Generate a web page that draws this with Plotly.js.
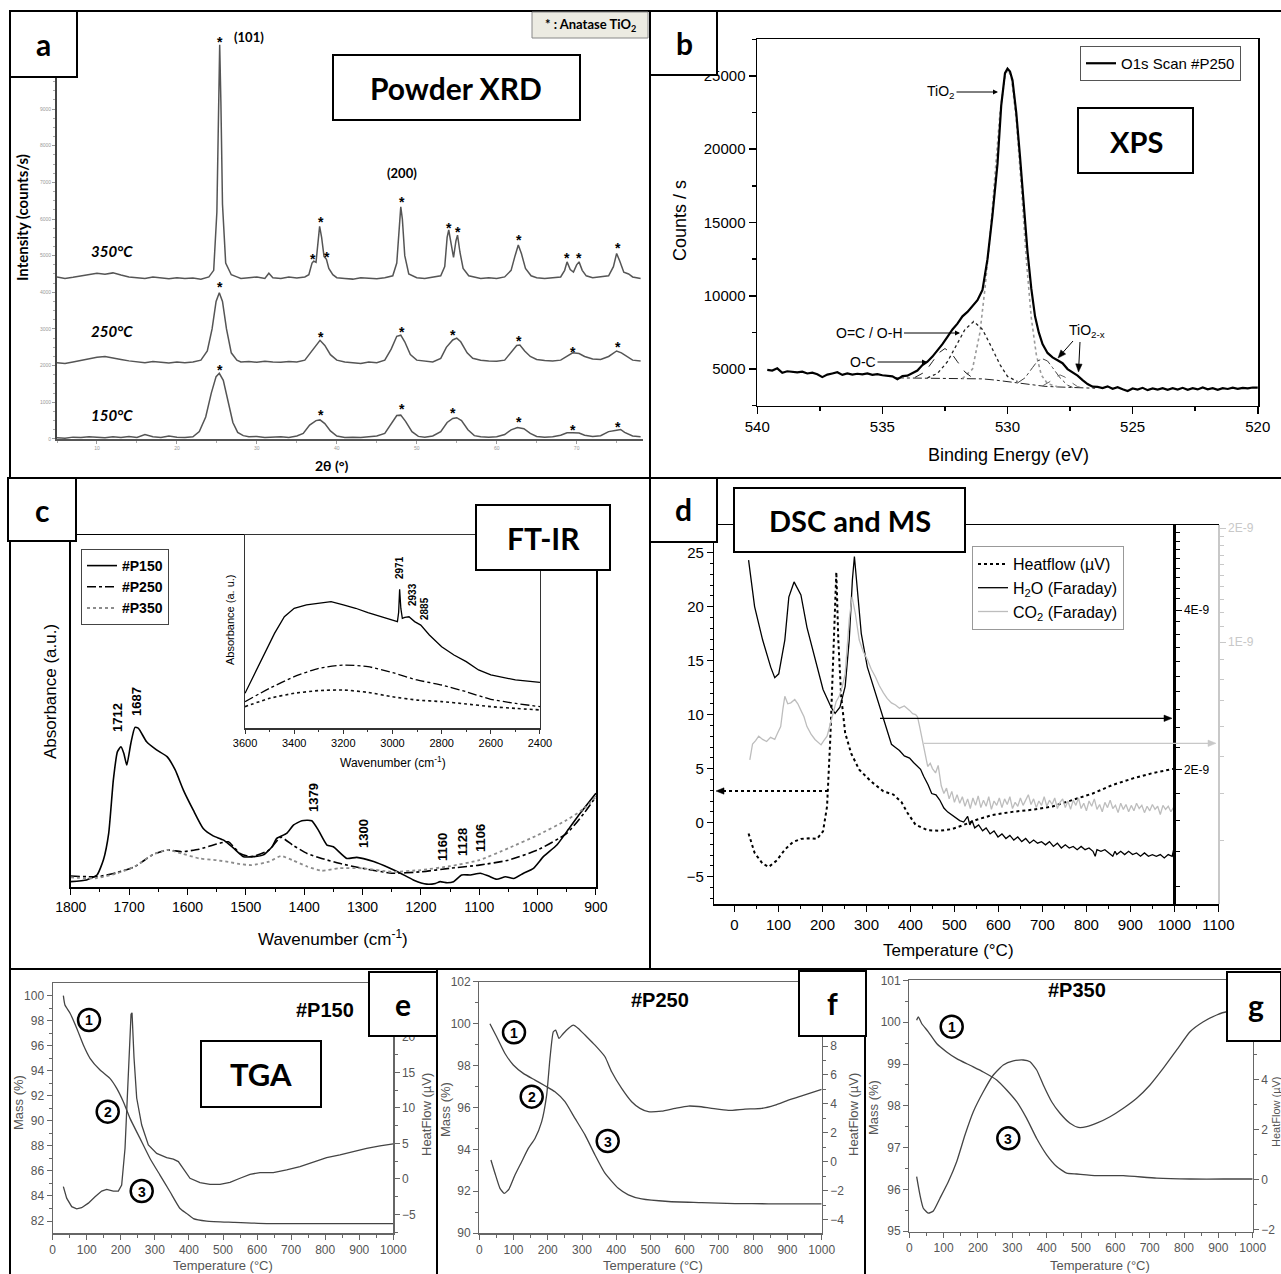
<!DOCTYPE html>
<html>
<head>
<meta charset="utf-8">
<script src="https://cdn.plot.ly/plotly-3.0.1.min.js"></script>
<style>
html,body{margin:0;padding:0;background:#fff;}
#chart{width:1281px;height:1274px;}
</style>
</head>
<body>
<div id="chart"></div>
<script>
// ====================== DATA ======================
// ---- (a) Powder XRD : 2theta (deg) / intensity (counts/s)
const xrd350_2t = [5,6,7,8,9,10,11,12,13,14,15,16,17,18,19,20,21,22,23,24,24.6,25.0,25.2,25.35,25.5,25.7,26.1,26.8,27.5,28,29,30,31,31.5,32,33,34,35,36,36.5,36.9,37.1,37.4,37.65,37.85,38.1,38.4,38.7,39.0,39.5,40,41,42,43,44,45,46,47,47.5,47.8,48.0,48.2,48.5,49,50,51,52,53,53.5,53.8,54.0,54.3,54.6,54.9,55.1,55.4,55.8,56.5,57,58,59,60,61,61.8,62.3,62.7,63.1,63.6,64.3,65,66,67,68,68.5,68.8,69.2,69.6,70.0,70.3,70.7,71.2,72,73,74,74.6,75.0,75.4,75.9,76.5,77,78];
const xrd350_int = [4420,4380,4410,4450,4500,4520,4490,4530,4470,4420,4400,4380,4420,4390,4370,4400,4380,4390,4360,4420,4600,6200,9000,10750,9200,6400,4800,4480,4420,4380,4400,4420,4380,4520,4400,4380,4420,4390,4420,4480,4800,4850,4820,5300,5800,5500,4980,4900,4650,4480,4400,4380,4360,4400,4380,4370,4400,4450,4800,5800,6330,6000,5000,4500,4400,4380,4420,4450,4700,5500,5700,5300,4950,5400,5560,5100,4650,4450,4420,4380,4400,4380,4420,4600,5000,5290,5050,4650,4450,4400,4380,4400,4420,4600,4830,4620,4550,4750,4830,4600,4450,4400,4420,4450,4700,5060,4850,4550,4500,4420,4380];
const xrd250_2t = [5,6,7,8,9,10,11,12,13,14,15,16,17,18,19,20,21,22,23,23.8,24.4,24.9,25.3,25.7,26.2,26.8,27.5,28,29,30,31,32,33,34,35,36,36.7,37.3,37.9,38.5,39.2,40,41,42,43,44,45,46,46.8,47.5,48.0,48.5,49.2,50,51,52,53,53.7,54.5,55.0,55.5,56.3,57,58,59,60,61,61.8,62.5,62.9,63.5,64.2,65,66,67,68,68.8,69.5,70.3,71,72,73,74,75,75.6,76.3,77,78];
const xrd250_int = [2080,2060,2100,2150,2200,2230,2250,2200,2170,2130,2100,2080,2110,2090,2070,2100,2080,2100,2150,2400,3000,3750,3990,3750,3000,2350,2150,2100,2110,2090,2120,2100,2090,2110,2100,2150,2350,2550,2690,2550,2300,2150,2100,2080,2060,2100,2080,2150,2450,2800,2830,2650,2300,2150,2120,2100,2200,2500,2700,2750,2650,2350,2200,2150,2130,2120,2150,2350,2550,2560,2400,2250,2170,2140,2130,2150,2250,2350,2330,2250,2180,2170,2250,2400,2350,2250,2150,2130];
const xrd150_2t = [5,6,7,8,9,10,11,12,13,14,15,16,17,18,19,20,21,22,22.8,23.6,24.3,24.9,25.3,25.8,26.4,27.0,27.6,28.3,29,30,31,32,33,34,35,35.8,36.6,37.4,37.9,38.5,39.2,40,41,42,43,44,45,46,46.8,47.5,48.0,48.6,49.4,50.2,51,52,53,53.8,54.5,55.0,55.6,56.4,57.2,58,59,60,61,61.8,62.6,63.4,64.2,65,66,67,68,68.8,69.5,70.3,71,72,73,74,75,75.5,76,77,78];
const xrd150_int = [30,20,50,40,60,50,30,60,40,70,40,120,60,40,80,50,40,60,200,600,1250,1700,1790,1600,1000,450,180,90,60,70,40,50,60,40,80,150,380,500,520,420,220,80,40,50,40,60,80,150,400,640,650,480,200,70,50,80,200,450,560,580,500,250,90,60,50,60,120,250,310,280,150,70,50,60,100,170,170,160,100,70,90,200,240,260,180,80,60];
// anatase peak markers [2theta, intensity]
const xrd350_marks = [[25.4,10950],[37.0,5020],[38.0,6030],[38.8,5060],[48.1,6560],[54.0,5860],[55.2,5750],[62.8,5540],[68.8,5050],[70.3,5050],[75.2,5320]];
const xrd250_marks = [[25.4,4250],[38.0,2880],[48.1,3020],[54.5,2950],[62.8,2770],[69.5,2470],[75.2,2610]];
const xrd150_marks = [[25.4,2000],[38.0,770],[48.1,930],[54.5,810],[62.8,565],[69.6,355],[75.2,445]];
const xrd_yticks = [0,1000,2000,3000,4000,5000,6000,7000,8000,9000];

// ---- (b) XPS O1s : binding energy (eV) / counts per s
const xps_o1s = [[539.6,4950],[539.4,4900],[539.2,5050],[539.0,4750],[538.8,4850],[538.6,4800],[538.4,4780],[538.2,4820],[538.0,4700],[537.8,4760],[537.6,4650],[537.4,4450],[537.2,4620],[537.0,4700],[536.8,4780],[536.6,4600],[536.4,4700],[536.2,4620],[536.0,4680],[535.8,4640],[535.6,4700],[535.4,4600],[535.2,4650],[535.0,4580],[534.8,4560],[534.6,4500],[534.4,4300],[534.2,4520],[534.0,4550],[533.8,4700],[533.6,4900],[533.4,5270],[533.2,5500],[533.0,5850],[532.8,6250],[532.6,6700],[532.4,7200],[532.2,7700],[532.0,8100],[531.8,8600],[531.6,8900],[531.4,9300],[531.2,9700],[531.0,10400],[530.8,12500],[530.6,15500],[530.4,19000],[530.25,23000],[530.1,25200],[530.0,25500],[529.9,25300],[529.8,24700],[529.65,22500],[529.5,19500],[529.35,16200],[529.2,13000],[529.05,10500],[528.9,8600],[528.75,7500],[528.6,6700],[528.4,6100],[528.2,5800],[528.0,5600],[527.8,5400],[527.6,5000],[527.4,4800],[527.2,4550],[527.0,4250],[526.8,3980],[526.6,3800],[526.4,3780],[526.2,3700],[526.0,3820],[525.8,3650],[525.6,3760],[525.4,3620],[525.2,3500],[525.0,3680],[524.8,3600],[524.6,3720],[524.4,3560],[524.2,3680],[524.0,3600],[523.8,3700],[523.6,3580],[523.4,3690],[523.2,3600],[523.0,3720],[522.8,3580],[522.6,3700],[522.4,3610],[522.2,3740],[522.0,3620],[521.8,3690],[521.6,3580],[521.4,3700],[521.2,3640],[521.0,3730],[520.8,3650],[520.6,3720],[520.4,3680],[520.2,3740],[520.0,3730]];
const xps_background = [[534.5,4400],[533,4380],[532,4360],[531,4330],[530.5,4250],[530,4150],[529.5,4020],[529,3900],[528.5,3820],[528,3780],[527,3720],[526.5,3690]];
const xps_tio2 = [[531.8,4350],[531.4,5000],[531.1,7500],[530.9,10500],[530.7,14000],[530.5,18000],[530.3,22500],[530.1,25000],[530.0,25400],[529.85,25000],[529.65,22000],[529.45,17500],[529.25,12500],[529.05,8500],[528.85,6000],[528.65,4600],[528.4,4000],[528.0,3800]];
const xps_ocoh = [[533.2,4400],[532.8,4700],[532.4,5500],[532.0,6700],[531.7,7700],[531.35,8250],[531.0,7700],[530.7,6700],[530.3,5300],[530.0,4500],[529.6,4150]];
const xps_oc = [[533.7,4430],[533.3,4800],[533.0,5500],[532.75,6100],[532.5,6400],[532.25,6100],[532.0,5500],[531.7,4800],[531.4,4400]];
const xps_tio2x_a = [[529.6,4050],[529.3,4400],[529.0,5100],[528.8,5550],[528.6,5700],[528.4,5550],[528.2,5100],[527.9,4400],[527.6,3900],[527.4,3750]];
const xps_tio2x_b = [[528.6,3850],[528.3,4150],[528.1,4450],[527.9,4600],[527.7,4450],[527.5,4150],[527.2,3800],[527.0,3720]];

// ---- (c) FT-IR : wavenumber (cm-1) / absorbance (a.u.)
const ir_wn150 = [1800,1773,1755,1744,1735,1727,1720,1714,1709,1704,1697,1690,1684,1670,1653,1635,1621,1607,1590,1573,1556,1538,1521,1504,1487,1470,1455,1447,1430,1418,1404,1387,1376,1361,1350,1327,1310,1281,1253,1235,1213,1190,1175,1167,1155,1144,1130,1115,1098,1084,1070,1055,1041,1024,1007,990,967,950,927,900];
const ir_abs150 = [1.6,2.1,3.5,7.8,15.3,30.5,38.5,39.9,38.0,34.7,40.9,45.4,45.1,41.3,39.0,37.1,33.3,27.6,21.9,16.7,14.6,13.4,11.1,8.7,8.7,9.2,11.5,13.9,15.3,17.7,18.9,18.9,16.3,12.0,11.5,8.2,8.5,7.3,5.4,4.0,2.1,0.9,1.1,1.6,1.3,1.6,3.5,3.5,4.0,3.2,2.3,3.0,2.5,4.0,5.4,8.7,12.0,15.8,21.0,26.7];
const ir_wn = [1800,1755,1720,1690,1660,1635,1610,1580,1550,1530,1510,1490,1460,1440,1420,1395,1370,1340,1300,1250,1200,1150,1100,1050,1000,950,920,900];
const ir_abs250 = [3.2,3.0,4.2,5.9,9.2,10.6,10.1,10.8,12.3,12.9,9.6,8.7,10.6,14.2,12.0,9.6,8.2,6.8,5.4,4.0,4.4,5.4,6.3,7.7,10.6,15.3,21.1,25.7];
const ir_abs350 = [2.8,2.6,4.0,5.9,9.2,10.6,9.6,8.2,7.7,7.2,6.6,6.3,7.3,8.9,7.7,5.9,4.7,5.4,5.4,4.4,4.9,6.0,7.7,11.1,14.8,19.1,22.4,25.7];
// inset 3600-2400 cm-1
const irIn_wn150 = [3600,3560,3520,3480,3440,3400,3350,3300,3250,3200,3150,3100,3050,3000,2980,2975,2971,2966,2960,2950,2933,2910,2885,2850,2800,2750,2700,2650,2600,2500,2400];
const irIn_abs150 = [18.1,28.4,38.8,49.1,57.7,62.1,63.8,64.7,65.5,63.8,62.1,59.8,57.7,56.0,55.2,60,71.9,62,56.9,57.4,57.7,55.2,53.4,48.3,42.2,37.9,34.5,30.2,27.6,25.0,23.8];
const irIn_wn = [3600,3500,3400,3300,3200,3100,3000,2900,2800,2700,2600,2500,2400];
const irIn_abs250 = [13.8,20.7,26.7,31.0,32.7,31.9,28.8,25.0,22.4,18.9,15.0,12.9,11.2];
const irIn_abs350 = [11.2,15.5,18.1,19.5,19.8,18.6,16.3,14.6,13.8,12.6,11.2,10.3,9.5];

// ---- (d) DSC and MS : temperature (C)
const dsc_T = [32,45.7,64,77.8,96,114.4,132.7,151,169.3,187.6,201.3,210.4,217.7,224,228.7,231.5,236,242.5,251.6,265.3,283.6,311,338.5,361.4,379.7,393.4,411.7,439,466.6,494,521.5,549,585.5,631.3,677,722.8,768.5,814.3,860,905.8,951.5,1000];
const dsc_heatflow = [-1.0,-2.8,-3.8,-4.1,-3.5,-2.5,-1.8,-1.5,-1.45,-1.5,-0.8,1.5,7.7,14.8,20.0,23.2,16.9,11.7,8.3,6.4,4.9,3.8,2.9,2.6,1.9,0.9,-0.2,-0.7,-0.75,-0.6,-0.2,0.25,0.7,1.0,1.2,1.5,2.1,2.7,3.5,4.1,4.6,5.0];
// H2O Faraday current, in units of 1E-9
const h2o_T = [32,45.7,64,82.3,91.5,100.6,114.4,123.5,135.4,151,164.7,183,201.3,219.6,228.7,239.7,251.6,260.8,268,272.6,279,288.2,302,320.2,338.5,356.8,366,375,386,398,407,416.3,423,430,440,448.3,458,466.6,476,484.9,494,
  503,512,521,530,535,540,546,555,564,572,581,590,599,608,617,626,635,644,653,662,671,680,689,698,707,716,725,734,743,752,761,770,779,788,797,806,815,820,824,833,842,851,860,865,869,878,887,896,905,914,923,932,941,950,959,968,977,986,995,1000];
const h2o_I = [4.97,4.06,3.51,3.12,2.98,3.03,3.51,4.23,4.52,4.27,3.71,3.22,2.83,2.62,2.55,2.62,2.87,3.51,4.56,5.05,4.44,3.61,3.12,2.79,2.48,2.23,2.20,2.17,2.12,2.10,2.06,2.02,2.00,1.94,1.87,1.80,1.79,1.75,1.69,1.66,1.64,
  1.62,1.60,1.59,1.63,1.57,1.60,1.55,1.57,1.53,1.55,1.51,1.53,1.49,1.51,1.48,1.50,1.47,1.49,1.46,1.48,1.45,1.47,1.45,1.46,1.44,1.46,1.43,1.45,1.42,1.44,1.42,1.43,1.41,1.43,1.41,1.42,1.40,1.37,1.41,1.40,1.41,1.39,1.37,1.40,1.38,1.40,1.38,1.40,1.38,1.39,1.37,1.39,1.37,1.38,1.37,1.38,1.36,1.38,1.37,1.43];
// CO2 Faraday current, in units of 1E-9
const co2_T = [34.8,41,48,55,64,73,82,91.5,98,105,110,114.4,121,128,137,144,151,158,164.7,174,183,190,196.7,203,210.4,217,224.1,231,237.9,245,251.6,256,260.8,267.2,274.5,283.6,293,302,311,320.2,329,338.5,347,356.8,366,375,386,398,405,411.7,416,420.9,425,430,435,439.2,445,450,457,463,470,476,482,488,494,500,
  506,512,518,524,530,536,542,548,554,560,566,572,578,584,590,596,602,608,614,620,626,632,638,644,650,656,662,668,674,680,686,692,698,704,710,716,722,728,734,740,746,752,758,764,770,776,782,788,794,800,806,812,818,824,830,836,842,848,854,860,866,872,878,884,890,896,902,908,914,920,926,932,938,944,950,956,962,968,974,980,986,992,998,1000];
const co2_I = [0.489,0.539,0.550,0.565,0.554,0.547,0.561,0.554,0.576,0.599,0.666,0.720,0.688,0.692,0.706,0.688,0.661,0.636,0.599,0.572,0.554,0.543,0.536,0.550,0.565,0.603,0.648,0.697,0.720,0.764,0.827,0.955,1.148,1.318,1.195,1.014,0.943,0.901,0.849,0.811,0.769,0.735,0.711,0.692,0.683,0.670,0.679,0.661,0.648,0.644,0.636,0.599,0.565,0.529,0.495,0.470,0.479,0.464,0.452,0.473,0.418,0.399,0.412,0.386,0.404,0.378,
  0.396,0.376,0.391,0.369,0.386,0.364,0.388,0.371,0.393,0.366,0.383,0.369,0.391,0.362,0.381,0.371,0.388,0.366,0.386,0.373,0.391,0.364,0.378,0.369,0.388,0.371,0.383,0.396,0.373,0.386,0.366,0.381,0.371,0.391,0.369,0.383,0.373,0.388,0.364,0.378,0.386,0.366,0.381,0.362,0.383,0.371,0.388,0.364,0.376,0.359,0.381,0.369,0.386,0.362,0.373,0.357,0.378,0.366,0.383,0.364,0.371,0.355,0.376,0.362,0.373,0.357,0.371,0.359,0.376,0.364,0.371,0.355,0.369,0.359,0.373,0.362,0.369,0.351,0.371,0.362,0.369,0.357,0.366,0.353];

// ---- (e,f,g) TGA : temperature (C) / mass (%) and heat flow (uV)
const tgaE_mT = [31.3,36,51,70.5,90,109.6,139,168,188,207.4,227,256.4,285.7,315,344.4,373.8,393.4,413,452,530,628,824,1000];
const tgaE_mass = [100.0,99.25,98.6,97.4,96.06,95.0,94.06,93.4,92.6,91.53,90.2,88.6,87.0,85.67,84.34,83.0,82.6,82.2,82.0,81.9,81.8,81.8,81.8];
const tgaE_hT = [31.3,41,55.8,70.5,85,104.7,124.3,143.8,158.5,178,192.8,202.5,212.3,222.1,230,232.9,238.7,246.6,261.3,280.8,305.3,334.6,354.2,368.9,383.6,403.1,432.5,461.8,491.2,520.5,549.9,579.3,608.6,647.7,686.9,726,765.2,804.3,843.4,882.6,921.7,960.9,1000];
const tgaE_hf = [-1.08,-2.7,-3.9,-4.2,-4.05,-3.4,-2.5,-1.7,-1.46,-1.7,-1.7,-0.85,4.3,13.8,23.2,23.4,17.1,11.4,7.6,4.8,3.6,3.0,2.8,2.45,1.5,0.1,-0.5,-0.75,-0.75,-0.47,0.1,0.66,0.9,0.9,1.27,1.75,2.36,3.0,3.4,3.9,4.3,4.67,4.95];
const tgaF_mT = [31,50.6,75,99.3,128.5,162.6,191.8,221,250.2,279.5,308.7,337.9,367,406,435.3,474.2,552,649.5,746.8,844.2,1000];
const tgaF_mass = [100.0,99.38,98.58,98.03,97.63,97.31,97.04,96.75,96.28,95.48,94.69,93.73,92.86,92.14,91.83,91.63,91.51,91.46,91.41,91.4,91.4];
const tgaF_hT = [34,45.8,60.4,73,86.7,104.2,123.7,143.1,162.6,182,196.7,206.4,216.2,223,232.7,245.4,260,274.6,289.2,308.7,337.9,367,386.6,415.8,445,469.3,493.7,532.6,571.6,610.5,639.7,678.7,727.4,776,824.7,863.7,902.6,941.6,1000];
const tgaF_hf = [0.12,-0.8,-1.84,-2.19,-1.89,-0.92,0.0,0.92,1.61,2.76,4.6,7.14,8.99,9.1,8.53,8.87,9.22,9.45,9.22,8.76,8.06,7.26,6.22,5.07,4.15,3.69,3.46,3.5,3.69,3.85,3.82,3.69,3.55,3.64,3.69,3.92,4.26,4.56,5.0];
const tgaG_mT = [21.4,26.2,36,55.3,79.6,108.7,137.9,176.7,215.5,254.4,283.5,312.6,341.7,370.9,400,429.1,458.3,487.4,545.6,623.3,720.4,817.5,914.6,1000];
const tgaG_mass = [100.05,100.13,99.97,99.77,99.49,99.29,99.13,98.97,98.81,98.62,98.38,98.1,97.7,97.22,96.83,96.55,96.39,96.37,96.33,96.33,96.27,96.25,96.25,96.25];
const tgaG_hT = [21.4,31,40.8,55.3,70,89.3,113.6,137.9,162.1,186.4,215.5,244.7,273.8,302.9,332,351.5,370.9,390.3,414.6,438.8,468,492.2,516.5,545.6,584.5,623.3,662.1,701,739.8,778.6,817.5,856.3,895.1,924.3,953.4,1000];
const tgaG_hf = [0.13,-0.6,-1.13,-1.33,-1.24,-0.73,-0.07,0.73,1.8,2.73,3.53,4.2,4.6,4.76,4.8,4.73,4.4,3.8,3.13,2.67,2.27,2.1,2.13,2.27,2.53,2.87,3.27,3.8,4.47,5.2,5.93,6.33,6.6,6.73,6.73,6.8];

// ---- tick values / labels
const h2oTickVals = [2,4];
const h2oTickText = ['2E-9','4E-9'];
const h2oMinorVals = [1.2,1.4,1.6,1.8,2.2,2.4,2.6,2.8,3.0,3.2,3.4,3.6,3.8,4.2,4.4,4.6,4.8,5.0,5.2,5.4,5.6];
const co2TickVals = [1,2];
const co2TickText = ['1E-9','2E-9'];
const co2MinorVals = [0.3,0.4,0.5,0.6,0.7,0.8,0.9,1.1,1.2,1.3,1.4,1.5,1.6,1.7,1.8,1.9];
const tgaE_hfTicks = [-5,0,5,10,15,20];
const tgaF_hfTicks = [-4,-2,0,2,4,6,8];
const tgaG_hfTicks = [-2,0,2,4];

// ====================== LAYOUT HELPERS ======================
const W = 1281, H = 1274;
const PX = x => x / W;
const PY = y => 1 - y / H;
const ARIAL = '"Liberation Sans", Arial, Helvetica, sans-serif';
const CAL = 'Lato, "Open Sans", sans-serif';
const X = a => a.map(p => p[0]);
const Y = a => a.map(p => p[1]);

function line(x, y, xa, ya, opt) {
  return Object.assign({type:'scatter', mode:'lines', x:x, y:y, xaxis:xa, yaxis:ya, hoverinfo:'skip', showlegend:false}, opt);
}
function axis(o) {
  return Object.assign({showgrid:false, zeroline:false, showline:true, fixedrange:true,
    linecolor:'#000', tickcolor:'#000', ticks:'outside', automargin:false}, o);
}
function txt(x, y, text, size, opt) {
  return Object.assign({xref:'paper', yref:'paper', x:PX(x), y:PY(y), text:text, showarrow:false,
    xanchor:'center', yanchor:'middle', font:{family:ARIAL, size:size, color:'#000'}}, opt || {});
}
function rect(x0, y0, x1, y1, opt) {
  return Object.assign({type:'rect', xref:'paper', yref:'paper', x0:PX(x0), x1:PX(x1), y0:PY(y1), y1:PY(y0),
    fillcolor:'#fff', line:{color:'#000', width:2}, layer:'above'}, opt || {});
}
function seg(x0, y0, x1, y1, opt) {
  return Object.assign({type:'line', xref:'paper', yref:'paper', x0:PX(x0), x1:PX(x1), y0:PY(y0), y1:PY(y1),
    line:{color:'#000', width:2}, layer:'above'}, opt || {});
}
function circ(cx, cy, r) {
  return {type:'circle', xref:'paper', yref:'paper', x0:PX(cx - r), x1:PX(cx + r), y0:PY(cy + r), y1:PY(cy - r),
    line:{color:'#000', width:2.5}, layer:'above'};
}
// arrow = shaft (optional) + filled triangular head, in page pixels
function arrow(x0, y0, x1, y1, color, width, withShaft, dash) {
  const dx = x1 - x0, dy = y1 - y0, L = Math.sqrt(dx * dx + dy * dy);
  const ux = dx / L, uy = dy / L, hl = 8, hw = 3.2;
  const bx = x1 - ux * hl, by = y1 - uy * hl;
  const p = (x, y) => PX(x) + ',' + PY(y);
  const out = [];
  if (withShaft) out.push(seg(x0, y0, bx, by, {line:{color:color, width:width, dash:dash || 'solid'}}));
  out.push({type:'path', xref:'paper', yref:'paper', layer:'above', fillcolor:color, line:{color:color, width:0.5},
    path:'M' + p(x1, y1) + ' L' + p(bx - uy * hw, by + ux * hw) + ' L' + p(bx + uy * hw, by - ux * hw) + ' Z'});
  return out;
}

// ====================== TRACES ======================
const XRD = {color:'#555', width:1.5};
const TG = {color:'#444', width:1.3};
const TGs = {color:'#444', width:1.3, shape:'spline', smoothing:0.5};
const traces = [
  // (a)
  line(xrd350_2t, xrd350_int, 'x', 'y', {line:XRD}),
  line(xrd250_2t, xrd250_int, 'x', 'y', {line:XRD}),
  line(xrd150_2t, xrd150_int, 'x', 'y', {line:XRD}),
  // (b)
  line(X(xps_background), Y(xps_background), 'x2', 'y2', {line:{color:'#222', width:1, dash:'dashdot'}}),
  line(X(xps_tio2), Y(xps_tio2), 'x2', 'y2', {line:{color:'#9a9a9a', width:1.6, dash:'dot'}}),
  line(X(xps_ocoh), Y(xps_ocoh), 'x2', 'y2', {line:{color:'#222', width:1.3, dash:'dot'}}),
  line(X(xps_oc), Y(xps_oc), 'x2', 'y2', {line:{color:'#222', width:1, dash:'dash'}}),
  line(X(xps_tio2x_a), Y(xps_tio2x_a), 'x2', 'y2', {line:{color:'#444', width:1, dash:'dashdot'}}),
  line(X(xps_tio2x_b), Y(xps_tio2x_b), 'x2', 'y2', {line:{color:'#666', width:1, dash:'dash'}}),
  line(X(xps_o1s), Y(xps_o1s), 'x2', 'y2', {name:'O1s Scan #P250', showlegend:true, legend:'legend', line:{color:'#000', width:2.2}}),
  // (c) main
  line(ir_wn150, ir_abs150, 'x3', 'y3', {name:'<b>#P150</b>', showlegend:true, legend:'legend2', line:{color:'#000', width:1.6, shape:'spline', smoothing:0.5}}),
  line(ir_wn, ir_abs250, 'x3', 'y3', {name:'<b>#P250</b>', showlegend:true, legend:'legend2', line:{color:'#000', width:1.6, dash:'dashdot', shape:'spline', smoothing:0.5}}),
  line(ir_wn, ir_abs350, 'x3', 'y3', {name:'<b>#P350</b>', showlegend:true, legend:'legend2', line:{color:'#8c8c8c', width:1.8, dash:'dot', shape:'spline', smoothing:0.5}}),
  // (c) inset
  line(irIn_wn150, irIn_abs150, 'x4', 'y4', {line:{color:'#000', width:1.3}}),
  line(irIn_wn, irIn_abs250, 'x4', 'y4', {line:{color:'#000', width:1.3, dash:'dashdot', shape:'spline', smoothing:0.6}}),
  line(irIn_wn, irIn_abs350, 'x4', 'y4', {line:{color:'#111', width:1.6, dash:'dot', shape:'spline', smoothing:0.6}}),
  // (d)
  line(dsc_T, dsc_heatflow, 'x5', 'y5', {name:'Heatflow (µV)', showlegend:true, legend:'legend3', line:{color:'#000', width:2, dash:'dot'}}),
  line(h2o_T, h2o_I, 'x5', 'y6', {name:'H<sub>2</sub>O (Faraday)', showlegend:true, legend:'legend3', line:{color:'#000', width:1.3}}),
  line(co2_T, co2_I, 'x5', 'y7', {name:'CO<sub>2</sub> (Faraday)', showlegend:true, legend:'legend3', line:{color:'#bdbdbd', width:1.3}}),
  // (e)
  line(tgaE_mT, tgaE_mass, 'x8', 'y8', {line:TGs}),
  line(tgaE_hT, tgaE_hf, 'x8', 'y9', {line:TG}),
  // (f)
  line(tgaF_mT, tgaF_mass, 'x9', 'y10', {line:TGs}),
  line(tgaF_hT, tgaF_hf, 'x9', 'y11', {line:TGs}),
  // (g)
  line(tgaG_mT, tgaG_mass, 'x10', 'y12', {line:TGs}),
  line(tgaG_hT, tgaG_hf, 'x10', 'y13', {line:TGs})
];

// ====================== AXES ======================
const tgaTick = {tickfont:{family:ARIAL, size:12, color:'#555'}, linecolor:'#666', tickcolor:'#666', linewidth:1.2, ticklen:5};
function tgaMinor(d) { return {ticks:'outside', dtick:d, tick0:0, ticklen:3, tickcolor:'#666'}; }

const layout = {
  width:W, height:H, margin:{l:0, r:0, t:0, b:0},
  paper_bgcolor:'#fff', plot_bgcolor:'rgba(0,0,0,0)',
  font:{family:ARIAL, color:'#000'},
  hovermode:false,
  // (a)
  xaxis: axis({domain:[PX(57), PX(643)], range:[5, 78.3], anchor:'y', linecolor:'#555', linewidth:1.5, tickcolor:'#999', ticklen:3,
    dtick:10, tick0:0, minor:{ticks:'outside', dtick:5, ticklen:2, tickcolor:'#aaa'}, tickfont:{size:5, color:'#999'}}),
  yaxis: axis({domain:[PY(439), PY(35.7)], range:[-1, 11000], anchor:'x', linecolor:'#444', linewidth:2, tickcolor:'#999', ticklen:3,
    tickmode:'array', tickvals:xrd_yticks, minor:{ticks:'outside', tickmode:'linear', dtick:250, tick0:0, ticklen:2, tickcolor:'#aaa'}, tickfont:{size:5, color:'#999'}}),
  // (b)
  xaxis2: axis({domain:[PX(757), PX(1258)], range:[540.01, 519.99], anchor:'y2', mirror:true, linewidth:1.5, dtick:5, tick0:0,
    ticklen:7, tickwidth:1.5, minor:{ticks:'outside', dtick:2.5, ticklen:4, tickcolor:'#000'}, tickfont:{size:15}}),
  yaxis2: axis({domain:[PY(405.7), PY(39.3)], range:[2500, 27500], anchor:'x2', mirror:true, linewidth:1.5, dtick:5000, tick0:0,
    tickformat:'d', ticklen:7, tickwidth:1.5, minor:{ticks:'outside', dtick:2500, ticklen:4, tickcolor:'#000'}, tickfont:{size:15}}),
  // (c)
  xaxis3: axis({domain:[PX(70.7), PX(596)], range:[1800.1, 899.9], anchor:'y3', mirror:true, linewidth:1.5, dtick:100, tick0:0,
    ticklen:6, minor:{ticks:'outside', dtick:50, ticklen:3, tickcolor:'#000'}, tickfont:{size:14}}),
  yaxis3: axis({domain:[PY(887.3), PY(535)], range:[0, 100], anchor:'x3', mirror:true, linewidth:1.5, ticks:'', showticklabels:false}),
  xaxis4: axis({domain:[PX(245), PX(540)], range:[3600.1, 2399.9], anchor:'y4', mirror:true, linewidth:1.2, linecolor:'#333', tickcolor:'#333',
    dtick:200, tick0:0, ticklen:4, minor:{ticks:'outside', dtick:100, ticklen:2, tickcolor:'#333'}, tickfont:{size:11}}),
  yaxis4: axis({domain:[PY(728.3), PY(535)], range:[0, 100], anchor:'x4', mirror:true, linewidth:1.2, linecolor:'#333', ticks:'', showticklabels:false}),
  // (d)
  xaxis5: axis({domain:[PX(714.4), PX(1218.5)], range:[-45.7, 1100.3], anchor:'y5', mirror:true, linewidth:1.5, dtick:100, tick0:0,
    ticklen:6, minor:{ticks:'outside', dtick:50, ticklen:3, tickcolor:'#000'}, tickfont:{size:15}}),
  yaxis5: axis({domain:[PY(904), PY(525)], range:[-7.53, 27.56], anchor:'x5', linewidth:1.5, dtick:5, tick0:0,
    ticklen:6, minor:{ticks:'outside', dtick:1, ticklen:3, tickcolor:'#000'}, tickfont:{size:15}}),
  yaxis6: axis({overlaying:'y5', type:'log', range:[0.0465, 0.7627], anchor:'free', position:PX(1174.3), side:'right', linewidth:2.2,
    tickmode:'array', tickvals:h2oTickVals, ticktext:h2oTickText, ticklen:6, minor:{ticks:'outside', tickmode:'array', tickvals:h2oMinorVals, ticklen:4, tickcolor:'#000'},
    tickfont:{size:12}}),
  yaxis7: axis({overlaying:'y5', type:'log', range:[-0.691, 0.3097], anchor:'free', position:PX(1218.5), side:'right', linewidth:2.2,
    linecolor:'#c8c8c8', tickcolor:'#c8c8c8', tickmode:'array', tickvals:co2TickVals, ticktext:co2TickText, ticklen:6,
    minor:{ticks:'outside', tickmode:'array', tickvals:co2MinorVals, ticklen:4, tickcolor:'#c8c8c8'}, tickfont:{size:12, color:'#c8c8c8'}}),
  // (e)
  xaxis8: axis(Object.assign({domain:[PX(52.7), PX(393.3)], range:[-0.01, 1000.01], anchor:'y8', mirror:true, dtick:100, tick0:0, minor:tgaMinor(50)}, tgaTick)),
  yaxis8: axis(Object.assign({domain:[PY(1233.3), PY(983.3)], range:[81.02, 100.99], anchor:'x8', dtick:2, tick0:0, minor:tgaMinor(1)}, tgaTick)),
  yaxis9: axis(Object.assign({overlaying:'y8', anchor:'x8', side:'right', range:[-7.65, 27.56], tickmode:'array', tickvals:tgaE_hfTicks,
    minor:{ticks:'outside', tickmode:'linear', dtick:2.5, tick0:0, ticklen:3, tickcolor:'#666'}}, tgaTick)),
  // (f)
  xaxis9: axis(Object.assign({domain:[PX(479.3), PX(821.7)], range:[-0.01, 1000.01], anchor:'y10', mirror:true, dtick:100, tick0:0, minor:tgaMinor(50)}, tgaTick)),
  yaxis10: axis(Object.assign({domain:[PY(1233.3), PY(981.7)], range:[89.99, 102.01], anchor:'x9', dtick:2, tick0:0, minor:tgaMinor(1)}, tgaTick)),
  yaxis11: axis(Object.assign({overlaying:'y10', anchor:'x9', side:'right', range:[-4.95, 12.45], tickmode:'array', tickvals:tgaF_hfTicks,
    minor:{ticks:'outside', tickmode:'linear', dtick:1, tick0:0, ticklen:3, tickcolor:'#666'}}, tgaTick)),
  // (g)
  xaxis10: axis(Object.assign({domain:[PX(909.3), PX(1252.7)], range:[-0.01, 1000.01], anchor:'y12', mirror:true, dtick:100, tick0:0, minor:tgaMinor(50)}, tgaTick)),
  yaxis12: axis(Object.assign({domain:[PY(1231.7), PY(980)], range:[94.99, 101.01], anchor:'x10', dtick:1, tick0:0, minor:tgaMinor(0.5)}, tgaTick)),
  yaxis13: axis(Object.assign({overlaying:'y12', anchor:'x10', side:'right', range:[-2.07, 8.0], tickmode:'array', tickvals:tgaG_hfTicks,
    minor:{ticks:'outside', tickmode:'linear', dtick:1, tick0:0, ticklen:3, tickcolor:'#666'}}, tgaTick)),
  // legends
  legend: {x:PX(1080), y:PY(46), xanchor:'left', yanchor:'top', bgcolor:'#fff', bordercolor:'#555', borderwidth:1,
    font:{family:ARIAL, size:15, color:'#000'}, tracegroupgap:0},
  legend2: {x:PX(81), y:PY(549), xanchor:'left', yanchor:'top', bgcolor:'#fff', bordercolor:'#444', borderwidth:1,
    font:{family:ARIAL, size:14, color:'#000'}, tracegroupgap:0},
  legend3: {x:PX(972), y:PY(546), xanchor:'left', yanchor:'top', bgcolor:'#fff', bordercolor:'#999', borderwidth:1,
    font:{family:ARIAL, size:16, color:'#000'}, tracegroupgap:0}
};

// ====================== SHAPES ======================
const shapes = [
  // panel frames
  seg(10, 11, 1281, 11), seg(10, 11, 10, 1274), seg(650, 11, 650, 478), seg(10, 478, 1281, 478),
  seg(650, 478, 650, 969), seg(10, 969, 1281, 969), seg(437, 969, 437, 1274), seg(865, 969, 865, 1274),
  // panel letter boxes
  rect(10, 11, 77, 77), rect(650, 11, 717, 75), rect(8, 478, 76, 541), rect(650, 478, 717, 542),
  rect(369, 972, 437, 1036), rect(799, 971, 866, 1036), rect(1227, 972, 1281, 1041),
  // title boxes
  rect(333, 55, 580, 120), rect(532, 12, 648, 38, {fillcolor:'#ecebe2', line:{color:'#888', width:1}}),
  rect(1078, 108, 1193, 173), rect(476, 505, 610, 570), rect(734, 488, 965, 552), rect(201, 1041, 321, 1107),
  // circled step numbers (TGA)
  circ(89, 1020, 11), circ(107.7, 1111.7, 11), circ(141.7, 1191, 11),
  circ(514, 1032.3, 11), circ(531.7, 1096.7, 11), circ(607.7, 1141, 11),
  circ(951.7, 1026.7, 11), circ(1008.3, 1138.3, 11)
].concat(
  // (b) TiO2-x pointers
  arrow(1073, 341, 1058, 358, '#000', 1, true),
  arrow(1080, 342, 1078.5, 372, '#000', 1, true),
  // (d) axis pointers
  arrow(880, 718.3, 1172, 718.3, '#000', 1.2, true),
  arrow(924, 743.3, 1216, 743.3, '#c8c8c8', 1.2, true),
  arrow(828, 791, 716, 791, '#000', 2, true, 'dot')
);
layout.shapes = shapes;

// ====================== ANNOTATIONS ======================
const ann = [];
[['a', 43, 44], ['b', 684, 43], ['c', 42, 510], ['d', 683, 509], ['e', 403, 1004], ['f', 832, 1003], ['g', 1256, 1005]].forEach(l => {
  ann.push(txt(l[1], l[2], '<b>' + l[0] + '</b>', 30, {font:{family:CAL, size:30, color:'#000'}}));
});
ann.push(txt(456, 88, '<b>Powder XRD</b>', 30, {font:{family:CAL, size:30, color:'#000'}}));
ann.push(txt(590, 25, '<b>* : Anatase TiO<sub>2</sub></b>', 13, {font:{family:CAL, size:13, color:'#000'}}));
ann.push(txt(1136, 141, '<b>XPS</b>', 29, {font:{family:CAL, size:29, color:'#000'}}));
ann.push(txt(543, 538, '<b>FT-IR</b>', 30, {font:{family:CAL, size:30, color:'#000'}}));
ann.push(txt(849.5, 520, '<b>DSC and MS</b>', 29, {font:{family:CAL, size:29, color:'#000'}}));
ann.push(txt(261, 1074, '<b>TGA</b>', 31, {font:{family:CAL, size:31, color:'#000'}}));

// (a) texts
ann.push(txt(22, 218, '<b>Intensity (counts/s)</b>', 15, {textangle:-90, font:{family:CAL, size:15, color:'#000'}}));
ann.push(txt(332, 465, '<b>2θ (°)</b>', 14, {font:{family:CAL, size:14, color:'#000'}}));
ann.push(txt(112, 251, '<b><i>350°C</i></b>', 15, {font:{family:CAL, size:15, color:'#000'}}));
ann.push(txt(112, 331, '<b><i>250°C</i></b>', 15, {font:{family:CAL, size:15, color:'#000'}}));
ann.push(txt(112, 415, '<b><i>150°C</i></b>', 15, {font:{family:CAL, size:15, color:'#000'}}));
ann.push(txt(249, 37, '<b>(101)</b>', 13, {font:{family:CAL, size:13, color:'#000'}}));
ann.push(txt(402, 173, '<b>(200)</b>', 13, {font:{family:CAL, size:13, color:'#000'}}));
[xrd350_marks, xrd250_marks, xrd150_marks].forEach(m => m.forEach(p => {
  ann.push({xref:'x', yref:'y', x:p[0], y:p[1], text:'<b>*</b>', showarrow:false, yshift:-4,
    font:{family:ARIAL, size:14, color:'#000'}});
}));

// (b) texts
ann.push(txt(680, 221, 'Counts / s', 18, {textangle:-90}));
ann.push(txt(1008, 455, 'Binding Energy (eV)', 18));
ann.push({xref:'paper', yref:'paper', x:PX(998), y:PY(92), ax:-57, ay:0, text:'TiO<sub>2</sub>', showarrow:true,
  arrowhead:2, arrowsize:1, arrowwidth:1, arrowcolor:'#000', font:{family:ARIAL, size:14, color:'#000'}});
ann.push({xref:'paper', yref:'paper', x:PX(960), y:PY(333), ax:-91, ay:0, text:'O=C / O-H', showarrow:true,
  arrowhead:2, arrowsize:1, arrowwidth:1, arrowcolor:'#000', font:{family:ARIAL, size:14, color:'#000'}});
ann.push({xref:'paper', yref:'paper', x:PX(927), y:PY(362), ax:-64, ay:0, text:'O-C', showarrow:true,
  arrowhead:2, arrowsize:1, arrowwidth:1, arrowcolor:'#000', font:{family:ARIAL, size:14, color:'#000'}});
ann.push(txt(1087, 331, 'TiO<sub>2-x</sub>', 14));

// (c) texts
ann.push(txt(50, 692, 'Absorbance (a.u.)', 17, {textangle:-90}));
ann.push(txt(333, 938, 'Wavenumber (cm<sup>-1</sup>)', 17));
ann.push(txt(230, 620, 'Absorbance (a. u.)', 11, {textangle:-90}));
ann.push(txt(393, 762, 'Wavenumber (cm<sup>-1</sup>)', 12));
[['1712', 117, 718], ['1687', 137, 702], ['1379', 313, 798], ['1300', 363, 834], ['1160', 442, 847], ['1128', 462, 842], ['1106', 480, 838]].forEach(l => {
  ann.push(txt(l[1], l[2], '<b>' + l[0] + '</b>', 13, {textangle:-90}));
});
[['2971', 399, 568], ['2933', 412, 595], ['2885', 424, 609]].forEach(l => {
  ann.push(txt(l[1], l[2], '<b>' + l[0] + '</b>', 10, {textangle:-90}));
});

// (d) texts
ann.push(txt(948, 951, 'Temperature (°C)', 17));

// (e,f,g) texts
const G = {family:ARIAL, size:13, color:'#555'};
[[18, 1103], [445, 1110], [873, 1108]].forEach(p => ann.push(txt(p[0], p[1], 'Mass (%)', 13, {textangle:-90, font:G})));
[[426, 1115], [853, 1115]].forEach(p => ann.push(txt(p[0], p[1], 'HeatFlow (µV)', 13, {textangle:-90, font:G})));
ann.push(txt(1276, 1112, 'HeatFlow (µV)', 11, {textangle:-90, font:{family:ARIAL, size:11, color:'#555'}}));
[[223, 1265], [653, 1265], [1100, 1265]].forEach(p => ann.push(txt(p[0], p[1], 'Temperature (°C)', 13, {font:G})));
ann.push(txt(325, 1010, '<b>#P150</b>', 20));
ann.push(txt(660, 1000, '<b>#P250</b>', 20));
ann.push(txt(1077, 990, '<b>#P350</b>', 20));
[['1', 89, 1020], ['2', 107.7, 1111.7], ['3', 141.7, 1191], ['1', 514, 1032.3], ['2', 531.7, 1096.7], ['3', 607.7, 1141],
 ['1', 951.7, 1026.7], ['3', 1008.3, 1138.3]].forEach(c => ann.push(txt(c[1], c[2] + 0.5, '<b>' + c[0] + '</b>', 14)));

layout.annotations = ann;

Plotly.newPlot('chart', traces, layout, {staticPlot:true, displayModeBar:false});
</script>
</body>
</html>
